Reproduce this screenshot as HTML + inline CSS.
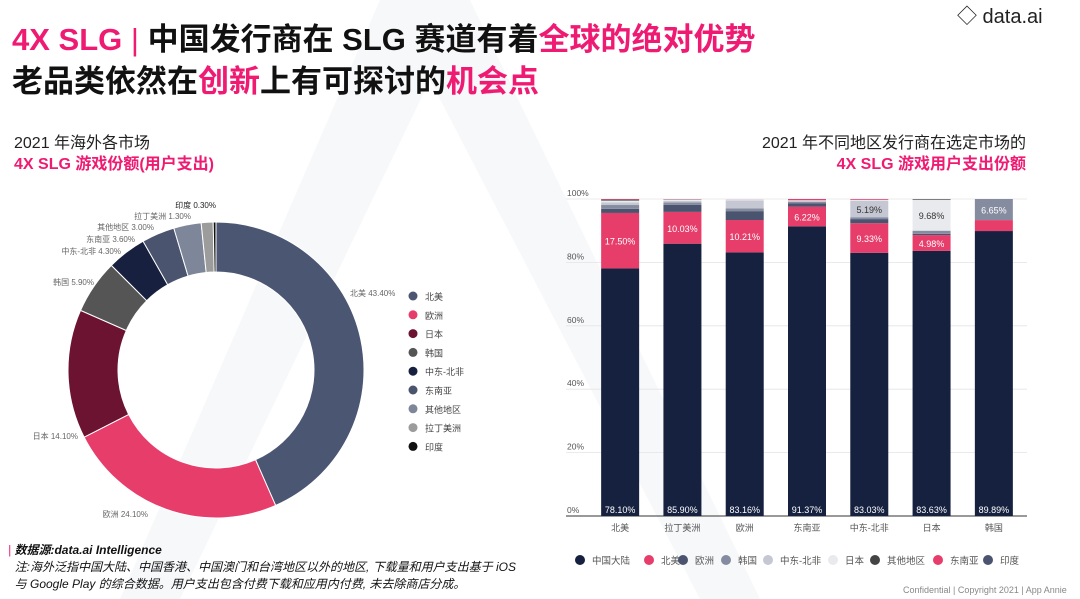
<!DOCTYPE html>
<html><head><meta charset="utf-8"><style>
body{margin:0;width:1080px;height:599px;overflow:hidden;background:#fff;font-family:"Liberation Sans","Noto Sans CJK SC",sans-serif;position:relative}
.t{position:absolute;white-space:nowrap}
.pk{color:#ef1a72}
</style></head><body>
<svg class="t" style="left:0;top:0" width="1080" height="599">
<polygon points="380,0 470,0 760,599 700,599 430,80 180,599 120,599" fill="#f7f8fa"/>
</svg>
<div class="t" style="left:12px;top:14px;font-size:31px;font-weight:bold;color:#111"><span class="pk">4X SLG</span> <span class="pk" style="font-weight:normal">|</span> 中国发行商在 SLG 赛道有着<span class="pk">全球的绝对优势</span></div>
<div class="t" style="left:12px;top:56px;font-size:31px;font-weight:bold;color:#111">老品类依然在<span class="pk">创新</span>上有可探讨的<span class="pk">机会点</span></div>
<div class="t" style="left:957px;top:0px;font-size:20px;color:#222">◇ data.ai</div>
<div class="t" style="left:14px;top:133px;font-size:16px;line-height:21px;color:#222">2021 年海外各市场<br><b class="pk">4X SLG 游戏份额(用户支出)</b></div>
<div class="t" style="right:54px;top:133px;font-size:16px;line-height:21px;color:#222;text-align:right">2021 年不同地区发行商在选定市场的<br><b class="pk">4X SLG 游戏用户支出份额</b></div>
<svg class="t" id="donut" style="left:0;top:0" width="560" height="540"></svg>
<svg class="t" id="bars" style="left:0;top:0" width="1080" height="599"></svg>
<div class="t" style="left:8px;top:542px;font-size:12px;line-height:17px;color:#111;font-style:italic"><span class="pk">|</span> <b>数据源:data.ai Intelligence</b><br>&nbsp;&nbsp;注:海外泛指中国大陆、中国香港、中国澳门和台湾地区以外的地区, 下载量和用户支出基于 iOS<br>&nbsp;&nbsp;与 Google Play 的综合数据。用户支出包含付费下载和应用内付费, 未去除商店分成。</div>
<div class="t" style="left:903px;top:585px;font-size:9px;color:#888">Confidential | Copyright 2021 | App Annie</div>
<script>
const NS="http://www.w3.org/2000/svg";
function mk(p,tag,at){const e=document.createElementNS(NS,tag);for(const k in at)e.setAttribute(k,at[k]);p.appendChild(e);return e;}
// donut data
const dLabels=["北美","欧洲","日本","韩国","中东-北非","东南亚","其他地区","拉丁美洲","印度"];
const dValues=[43.4,24.1,14.1,5.9,4.3,3.6,3.0,1.3,0.3];
const dColors=["#4a5672","#e63d6b","#6b1331","#555555","#17213f","#4a546f","#7e869a","#9c9c9c","#111111"];
// label anchor layout (pixels), not data
const dLabelPos=[[350,296,"start"],[148,517,"end"],[78,439,"end"],[94,285,"end"],[121,254,"end"],[135,242,"end"],[154,230,"end"],[191,219,"end"],[216,208,"end"]];
const d=document.getElementById("donut");
const cx=216,cy=370,R=148,r=98;
let acc=0;const tot=dValues.reduce((a,b)=>a+b,0);
dValues.forEach((v,i)=>{
 const a0=acc/tot*2*Math.PI,a1=(acc+v)/tot*2*Math.PI;acc+=v;
 const P=(rr,a)=>[cx+rr*Math.sin(a),cy-rr*Math.cos(a)];
 const [x0,y0]=P(R,a0),[x1,y1]=P(R,a1),[x2,y2]=P(r,a1),[x3,y3]=P(r,a0);
 const lg=(a1-a0)>Math.PI?1:0;
 const s=mk(d,"path",{d:`M${x0},${y0}A${R},${R} 0 ${lg} 1 ${x1},${y1}L${x2},${y2}A${r},${r} 0 ${lg} 0 ${x3},${y3}Z`,fill:dColors[i],stroke:"#fff","stroke-width":1});
 
 
 const lp=dLabelPos[i];
 const t=mk(d,"text",{x:lp[0],y:lp[1],"font-size":8,fill:i===8?"#222":"#666","text-anchor":lp[2]});
 t.textContent=dLabels[i]+" "+v.toFixed(2)+"%";
 
 
});
dLabels.forEach((l,i)=>{
 const y=296+i*18.8;
 const c=mk(d,"circle",{cx:413,cy:y,r:4.5,fill:dColors[i]});
 
 
 const t=mk(d,"text",{x:425,y:y+4,"font-size":9,fill:"#444"});t.textContent=l;
 
 
});
// bar data
const bCats=["北美","拉丁美洲","欧洲","东南亚","中东-北非","日本","韩国"];
const sNames=["中国大陆","北美","欧洲","韩国","中东-北非","日本","其他地区","东南亚","印度"];
const sColors=["#15213f","#e63d6b","#4a546f","#868ca0","#c5c8d2","#e9eaee","#444444","#e63d6b","#4a546f"];
const sChina=[78.10,85.90,83.16,91.37,83.03,83.63,89.89];
const sNA=[17.50,10.03,10.21,6.22,9.33,4.98,3.46];
const sEU=[1.3,2.2,2.8,1.0,1.3,0.4,0];
const sKR=[1.2,0.8,0.9,0.5,0.6,0.9,6.65];
const sME=[0.8,0.5,2.5,0.3,5.19,0.2,0];
const sJP=[0.6,0.4,0.4,0.2,0.3,9.68,0];
const sOther=[0.3,0.1,0,0,0,0.21,0];
const sSEA=[0.2,0.07,0.03,0.41,0.25,0,0];
const sIN=[0,0,0,0,0,0,0];
const series=[sChina,sNA,sEU,sKR,sME,sJP,sOther,sSEA,sIN];
const labelled={0:[0,1,2,3,4,5,6],1:[0,1,2,3,4,5],4:[4],5:[5],3:[6]};
const yTicks=[0,20,40,60,80,100];
const b=document.getElementById("bars");
const y0p=516,y1p=199,xl=589,xr=1025;
const Y=v=>y0p-(y0p-y1p)*v/100;
const X=i=>xl+(xr-xl)*(i+0.5)/bCats.length;
yTicks.forEach(t=>{
 const l=mk(b,"line",{x1:566,x2:xr+2,y1:Y(t),y2:Y(t),stroke:t===0?"#333":"#e4e4e8","stroke-width":t===0?1:0.8});
 
 
 const tx=mk(b,"text",{x:567,y:Y(t)-3,"font-size":8.5,fill:"#555"});tx.textContent=t+"%";
 
 
});
bCats.forEach((c,i)=>{
 let base=0;const cxp=X(i),w=38;
 series.forEach((s,k)=>{
  const v=s[i];if(v<=0)return;
  const rc=mk(b,"rect",{x:cxp-w/2,y:Y(base+v),width:w,height:Y(base)-Y(base+v),fill:sColors[k]});
  
  
  if(labelled[k]&&labelled[k].includes(i)){
   const ty=k===0?Y(0)-3:Y(base+v/2)+4;
   const t=mk(b,"text",{x:cxp,y:ty,"font-size":9,fill:(k===4||k===5)?"#333":"#fff","text-anchor":"middle"});
   t.textContent=v.toFixed(2)+"%";
   
   
  }
  base+=v;
 });
 const t=mk(b,"text",{x:cxp,y:531,"font-size":9,fill:"#555","text-anchor":"middle"});t.textContent=c;
 
 
});
const lx=[580,649,683,726,768,833,875,938,988];
sNames.forEach((n,i)=>{
 const c=mk(b,"circle",{cx:lx[i],cy:560,r:5,fill:sColors[i]});
 
 
 const t=mk(b,"text",{x:lx[i]+12,y:564,"font-size":9.5,fill:"#555"});t.textContent=n;
 
 
});
</script>
</body></html>
